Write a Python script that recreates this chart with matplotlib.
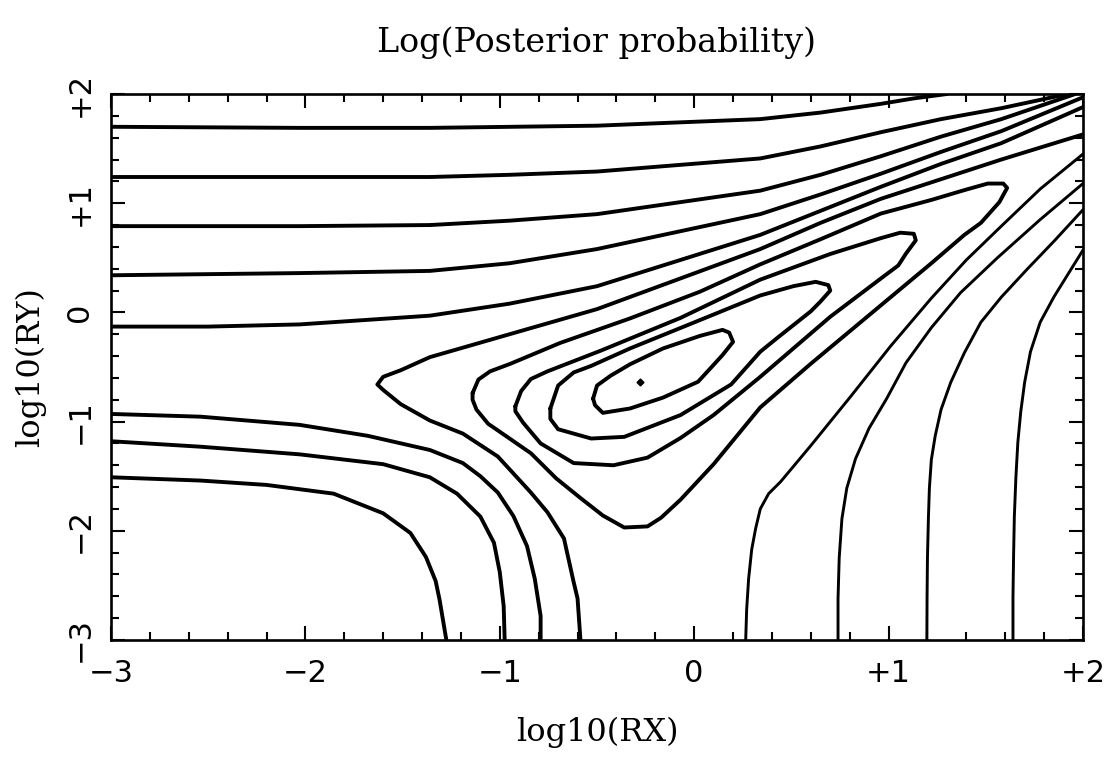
import matplotlib
matplotlib.use("Agg")
import matplotlib.pyplot as plt
from matplotlib.ticker import MultipleLocator

# ---- contour paths (data units: log10 RX, log10 RY) ----
# contours entering from the left edge and leaving at the top / right edge
c1_x = [-3.0, -2.03, -1.36, -0.50, 0.34, 0.65, 0.96, 1.13, 1.30]
c1_y = [1.70, 1.69, 1.69, 1.71, 1.77, 1.83, 1.91, 1.96, 2.0]
c2_x = [-3.0, -2.03, -1.36, -0.95, -0.50, 0.34, 0.65, 0.96, 1.27, 1.58, 1.92]
c2_y = [1.24, 1.24, 1.24, 1.26, 1.29, 1.41, 1.52, 1.65, 1.77, 1.87, 2.0]
c3_x = [-3.0, -2.03, -1.36, -0.95, -0.50, 0.34, 0.65, 0.96, 1.27, 1.58, 1.96]
c3_y = [0.79, 0.79, 0.80, 0.84, 0.90, 1.115, 1.26, 1.43, 1.61, 1.77, 2.0]
c4_x = [-3.0, -2.03, -1.36, -0.95, -0.50, 0.34, 0.65, 0.96, 1.27, 1.58, 2.0]
c4_y = [0.34, 0.36, 0.38, 0.45, 0.58, 0.90, 1.08, 1.27, 1.47, 1.66, 1.97]
c5_x = [-3.0, -2.50, -2.03, -1.36, -0.95, -0.50, 0.34, 0.65, 0.96, 1.27, 1.58, 2.0]
c5_y = [-0.13, -0.13, -0.11, -0.03, 0.08, 0.24, 0.71, 0.93, 1.15, 1.36, 1.55, 1.88]

# contour with the sharp vertex near the saddle (bottom edge -> vertex -> right edge)
c6_x = [-0.585, -0.60, -0.62, -0.67, -0.755, -0.84, -1.01, -1.19, -1.36, -1.51,
        -1.60, -1.63, -1.60, -1.51, -1.36, -0.95, -0.50, 0.34, 0.65, 0.96, 1.58, 2.0]
c6_y = [-3.0, -2.62, -2.47, -2.07, -1.83, -1.65, -1.32, -1.11, -0.99, -0.84,
        -0.71, -0.66, -0.59, -0.53, -0.41, -0.20, 0.03, 0.58, 0.82, 1.04, 1.40, 1.63]

# closed contours around the maximum (outermost to innermost)
c7_x = [-1.14, -1.11, -1.05, -0.945, -0.69, -0.33, 0.03, 0.34, 0.65, 0.96, 1.22,
        1.39, 1.51, 1.59, 1.61, 1.57, 1.475, 1.39, 1.22, 0.91, 0.60, 0.34, 0.10,
        -0.07, -0.17, -0.24, -0.36, -0.47, -0.585, -0.71, -0.84, -0.97, -1.06,
        -1.12, -1.14]
c7_y = [-0.74, -0.615, -0.54, -0.47, -0.28, -0.055, 0.19, 0.44, 0.67, 0.905, 1.03,
        1.12, 1.18, 1.18, 1.14, 1.01, 0.82, 0.71, 0.45, -0.01, -0.47, -0.87, -1.39,
        -1.715, -1.88, -1.96, -1.97, -1.86, -1.70, -1.52, -1.29, -1.13, -1.02,
        -0.89, -0.80]
c8_x = [-0.92, -0.89, -0.84, -0.755, -0.48, -0.07, 0.34, 0.70, 0.96, 1.06, 1.13,
        1.14, 1.09, 1.05, 0.96, 0.70, 0.34, 0.10, -0.07, -0.24, -0.415, -0.62,
        -0.79, -0.88, -0.92]
c8_y = [-0.86, -0.72, -0.61, -0.54, -0.35, -0.05, 0.30, 0.535, 0.68, 0.73, 0.72,
        0.66, 0.54, 0.43, 0.31, -0.04, -0.59, -0.94, -1.15, -1.33, -1.40, -1.38,
        -1.20, -1.01, -0.905]
c9_x = [-0.74, -0.70, -0.62, -0.53, -0.33, 0.03, 0.34, 0.51, 0.625, 0.69, 0.70,
        0.65, 0.60, 0.43, 0.34, 0.19, -0.07, -0.36, -0.53, -0.70, -0.74]
c9_y = [-0.88, -0.67, -0.55, -0.49, -0.33, -0.07, 0.155, 0.24, 0.28, 0.25, 0.20,
        0.10, 0.01, -0.23, -0.36, -0.66, -0.94, -1.14, -1.155, -1.07, -0.975]
c10_x = [-0.52, -0.50, -0.43, -0.33, -0.16, 0.03, 0.146, 0.18, 0.20, 0.146, 0.10,
         0.02, -0.16, -0.33, -0.47, -0.51]
c10_y = [-0.79, -0.67, -0.58, -0.475, -0.33, -0.215, -0.16, -0.185, -0.27, -0.39,
         -0.48, -0.635, -0.78, -0.88, -0.92, -0.85]
peak_x = [-0.28]
peak_y = [-0.64]

# lower-left contours (left edge -> bottom edge)
l1_x = [-3.0, -2.54, -2.03, -1.68, -1.36, -1.19, -1.10, -1.01, -0.93, -0.86, -0.82, -0.79, -0.79]
l1_y = [-0.93, -0.955, -1.03, -1.13, -1.26, -1.38, -1.50, -1.65, -1.865, -2.14, -2.44, -2.78, -3.0]
l2_x = [-3.0, -2.54, -2.03, -1.60, -1.36, -1.22, -1.10, -1.03, -1.00, -0.98, -0.975]
l2_y = [-1.18, -1.23, -1.30, -1.39, -1.51, -1.66, -1.87, -2.11, -2.38, -2.69, -3.0]
l3_x = [-3.0, -2.54, -2.20, -1.855, -1.60, -1.46, -1.38, -1.33, -1.31, -1.275]
l3_y = [-1.51, -1.54, -1.58, -1.66, -1.84, -2.02, -2.24, -2.46, -2.63, -3.0]

# right-hand contours (bottom edge -> right edge)
r1_x = [0.265, 0.27, 0.28, 0.296, 0.316, 0.34, 0.383, 0.445, 0.60, 0.805, 1.01,
        1.22, 1.40, 1.58, 1.78, 2.0]
r1_y = [-3.0, -2.72, -2.44, -2.17, -1.98, -1.80, -1.66, -1.55, -1.22, -0.77, -0.31,
        0.13, 0.48, 0.79, 1.13, 1.45]
r2_x = [0.74, 0.74, 0.746, 0.76, 0.785, 0.83, 0.90, 0.99, 1.09, 1.22, 1.37, 1.56,
        1.78, 2.0]
r2_y = [-3.0, -2.62, -2.25, -1.89, -1.61, -1.34, -1.06, -0.79, -0.46, -0.14, 0.18,
        0.50, 0.85, 1.18]
r3_x = [1.197, 1.198, 1.20, 1.205, 1.21, 1.22, 1.24, 1.27, 1.32, 1.39, 1.475,
        1.58, 1.71, 1.85, 2.0]
r3_y = [-3.0, -2.61, -2.25, -1.88, -1.61, -1.35, -1.13, -0.89, -0.64, -0.37, -0.09,
        0.14, 0.39, 0.65, 0.94]
r4_x = [1.64, 1.64, 1.643, 1.647, 1.655, 1.665, 1.68, 1.70, 1.73, 1.78, 1.85,
        1.93, 2.0]
r4_y = [-3.0, -2.605, -2.24, -1.87, -1.51, -1.19, -0.91, -0.64, -0.36, -0.09, 0.14,
        0.37, 0.57]

tick_values = [-3, -2, -1, 0, 1, 2]
tick_labels = ["\u22123", "\u22122", "\u22121", "0", "+1", "+2"]

title_text = "Log(Posterior probability)"
xlabel_text = "log10(RX)"
ylabel_text = "log10(RY)"

# ---- figure ----
fig = plt.figure(figsize=(11.08, 7.57), dpi=100)
ax = fig.add_axes([0.1002, 0.1546, 0.8772, 0.7212])

thick_paths = [(c1_x, c1_y), (c2_x, c2_y), (c3_x, c3_y), (c4_x, c4_y), (c5_x, c5_y),
               (c6_x, c6_y), (l1_x, l1_y), (l2_x, l2_y), (l3_x, l3_y)]
thin_paths = [(r1_x, r1_y), (r2_x, r2_y), (r3_x, r3_y), (r4_x, r4_y)]
closed_paths = [(c7_x, c7_y), (c8_x, c8_y), (c9_x, c9_y), (c10_x, c10_y)]

style = dict(color="black", solid_joinstyle="round", solid_capstyle="round")
for xs, ys in thick_paths:
    ax.plot(xs, ys, lw=2.8, **style)
for xs, ys in thin_paths:
    ax.plot(xs, ys, lw=2.1, **style)
for xs, ys in closed_paths:
    ax.plot(list(xs) + [xs[0]], list(ys) + [ys[0]], lw=2.8, **style)
ax.plot(peak_x, peak_y, marker="D", markersize=3.5, color="black", linestyle="none")

ax.set_xlim(-3, 2)
ax.set_ylim(-3, 2)
for spine in ax.spines.values():
    spine.set_linewidth(1.9)

ax.xaxis.set_minor_locator(MultipleLocator(0.2))
ax.yaxis.set_minor_locator(MultipleLocator(0.2))
ax.set_xticks(tick_values)
ax.set_yticks(tick_values)
ax.set_xticklabels(tick_labels, fontsize=22, family="DejaVu Sans")
ax.set_yticklabels(tick_labels, fontsize=22, family="DejaVu Sans",
                   rotation=90, va="center")
ax.tick_params(which="both", direction="in", top=True, right=True, width=1.5)
ax.tick_params(which="major", length=10)
ax.tick_params(which="minor", length=6)
ax.tick_params(axis="x", which="major", pad=14)
ax.tick_params(axis="y", which="major", pad=12)

ax.set_title(title_text, fontsize=24, family="DejaVu Serif", pad=30)
ax.set_xlabel(xlabel_text, fontsize=23, family="DejaVu Serif")
ax.xaxis.set_label_coords(0.5, -0.185)
ax.xaxis.label.set_va("baseline")
ax.set_ylabel(ylabel_text, fontsize=23, family="DejaVu Serif")
ax.yaxis.label.set_rotation_mode("default")
ax.yaxis.label.set_va("center")
ax.yaxis.label.set_ha("center")
ax.yaxis.set_label_coords(-0.083, 0.5)

fig.savefig("out.png", dpi=100)
